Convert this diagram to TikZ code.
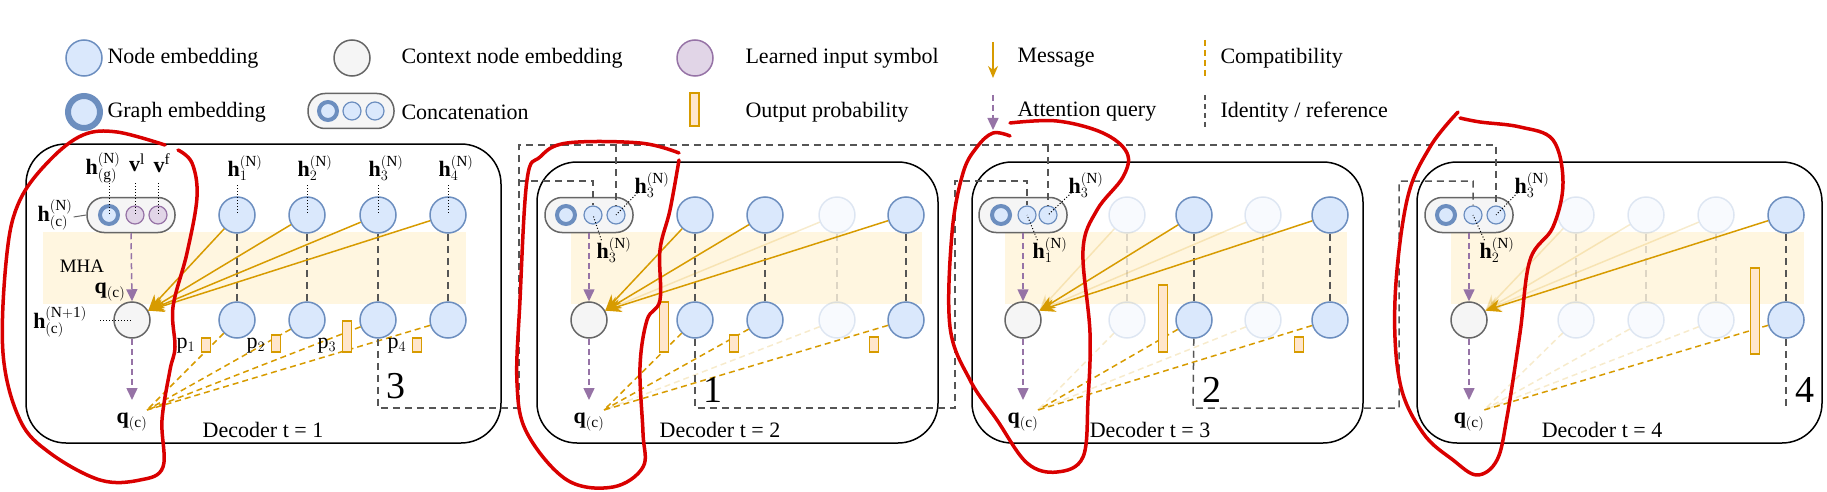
\documentclass[tikz,border=0pt]{standalone}
\usepackage{fontspec}
\setmainfont{Liberation Serif}
\usetikzlibrary{arrows.meta}
\pgfdeclarelayer{bg}\pgfsetlayers{bg,main}
\definecolor{nb}{HTML}{DAE8FC}\definecolor{nbd}{HTML}{6C8EBF}
\definecolor{cf}{HTML}{F5F5F5}\definecolor{cd}{HTML}{666666}
\definecolor{pf}{HTML}{E1D5E7}\definecolor{pd}{HTML}{9673A6}
\definecolor{of}{HTML}{FFE6CC}\definecolor{od}{HTML}{D79B00}
\definecolor{band}{HTML}{FFF6E0}\definecolor{idc}{HTML}{555555}
\begin{document}
\begin{tikzpicture}[x=1pt,y=-1pt,
 font=\fontsize{22}{26}\selectfont,
 nd/.style={circle,minimum size=36pt,inner sep=0,fill=nb,draw=nbd,line width=1.5pt},
 sn/.style={circle,minimum size=18pt,inner sep=0,fill=nb,draw=nbd,line width=1.2pt},
 pn/.style={circle,minimum size=18pt,inner sep=0,fill=pf,draw=pd,line width=1.2pt},
 gn/.style={circle,minimum size=18pt,inner sep=0,fill=nb,draw=nbd,line width=4pt},
 cn/.style={circle,minimum size=36pt,inner sep=0,fill=cf,draw=cd,line width=1.5pt},
 pill/.style={rectangle,rounded corners=17pt,minimum width=88pt,minimum height=35pt,fill=cf,draw=cd,line width=1.5pt},
 bar/.style={fill=of,draw=od,line width=1.8pt},
 box/.style={draw=black,line width=1.5pt,rounded corners=40pt},
 msg/.style={draw=od,line width=1.5pt,-{Stealth[length=16pt,width=13pt]}},
 cmp/.style={draw=od,line width=1.5pt,dash pattern=on 6pt off 4pt},
 att/.style={draw=pd,line width=1.5pt,dash pattern=on 6pt off 4pt,-{Triangle[length=12pt,width=11pt]}},
 idl/.style={draw=idc,line width=1.5pt,dash pattern=on 7pt off 5pt},
 dtl/.style={draw=black,line width=1pt,dotted},
 red/.style={draw=red!85!black,line width=3.5pt,line cap=round,line join=round},
 lab/.style={inner sep=1pt},
 big/.style={font=\fontsize{38}{40}\selectfont,inner sep=0}]
\useasboundingbox (0,0) rectangle (1827,492);
% ---------- legend ----------
\node[nd] (lg1) at (84,58) {};
\node[anchor=west] (lt1) at (104,58) {Node embedding};
\node[cn] (lg2) at (352,58) {};
\node[anchor=west] (lt2) at (398,58) {Context node embedding};
\node[nd,fill=pf,draw=pd] (lg3) at (695,58) {};
\node[anchor=west] (lt3) at (742,58) {Learned input symbol};
\node[nd,line width=6pt,minimum size=32pt] (lg4) at (84,112) {};
\node[anchor=west] (lt4) at (104,112) {Graph embedding};
\node[pill,minimum width=86pt] (lg5) at (351,111) {};
\node[gn] (lg5a) at (328,111) {};
\node[sn] (lg5b) at (352,111) {};
\node[sn] (lg5c) at (375,111) {};
\node[anchor=west] (lt5) at (398,112) {Concatenation};
\draw[bar] (690,93) rectangle (699,126);
\node[anchor=west] (lt6) at (742,112) {Output probability};
\coordinate (m1) at (993,42); \coordinate (m2) at (993,78);
\draw[msg,-{Stealth[length=12pt,width=10pt]}] (m1) -- (m2);
\node[anchor=west] (lt7) at (1014,58) {Message};
\coordinate (a1) at (993,95); \coordinate (a2) at (993,130);
\draw[att] (a1) -- (a2);
\node[anchor=west] (lt8) at (1014,112) {Attention query};
\coordinate (c1) at (1205,40); \coordinate (c2) at (1205,76);
\draw[cmp] (c1) -- (c2);
\node[anchor=west] (lt9) at (1217,58) {Compatibility};
\coordinate (i1) at (1205,95); \coordinate (i2) at (1205,130);
\draw[idl,dash pattern=on 5pt off 4pt] (i1) -- (i2);
\node[anchor=west] (lt10) at (1217,112) {Identity / reference};
% ---------- boxes and bands ----------
\draw[box] (26,144) rectangle (501,443);
\draw[box] (537,162) rectangle (938,443);
\draw[box] (972,162) rectangle (1363,443);
\draw[box] (1417,162) rectangle (1822,443);
\begin{pgfonlayer}{bg}
\fill[band] (43,232) rectangle (466,304);
\fill[band] (571,232) rectangle (922,304);
\fill[band] (1005,232) rectangle (1347,304);
\fill[band] (1451,232) rectangle (1804,304);
\end{pgfonlayer}
% ---------- decoder 1 ----------
\node[pill] (d1p) at (131,215) {};
\node[gn] (d1p1) at (109,215) {};
\node[pn] (d1p2) at (135,215) {};
\node[pn] (d1p3) at (158,215) {};
\node[cn] (d1c) at (132,320) {};
\node[lab] (d1lg) at (103,168) {$\mathbf{h}^{(\mathrm{N})}_{(\mathrm{g})}$};
\node[lab] (d1lv1) at (137,163) {$\mathbf{v}^{\mathrm{l}}$};
\node[lab] (d1lv2) at (162,163) {$\mathbf{v}^{\mathrm{f}}$};
\draw[dtl] (109,183) -- (d1p1.center);
\draw[dtl] (135,183) -- (d1p2.center);
\draw[dtl] (158,183) -- (d1p3.center);
\node[lab] (d1lc) at (55,215) {$\mathbf{h}^{(\mathrm{N})}_{(\mathrm{c})}$};
\draw[line width=1pt,cd] (d1lc.east) ++(0,2) -- (d1p.west);
\node[lab] (d1lc2) at (60,322) {$\mathbf{h}^{(\mathrm{N+1})}_{(\mathrm{c})}$};
\draw[dtl] (100,320) -- (d1c.center);
\node[lab] (d1q) at (110,292) {$\mathbf{q}_{(\mathrm{c})}$};
\node[lab] (d1mha) at (82,266) {\fontsize{19}{22}\selectfont MHA};
\draw[att] (d1p.south) -- (d1c.north);
\coordinate (d1qp) at (147,410);
\draw[att] (d1c.south) -- (132,400);
\node[lab] (d1ql) at (132,422) {$\mathbf{q}_{(\mathrm{c})}$};
\foreach \i/\x in {1/237,2/307,3/378,4/448}{
  \node[nd] (d1t\i) at (\x,215) {};
  \node[nd] (d1b\i) at (\x,320) {};
  \node[lab] (d1h\i) at (\x+8,168) {$\mathbf{h}^{(\mathrm{N})}_{\i}$};
  \draw[dtl] (\x,185) -- (d1t\i.center);
  \draw[idl] (d1t\i) -- (d1b\i);
  \draw[msg] (d1t\i) -- (d1c.30);
  \draw[cmp] (d1b\i) -- (d1qp);
}
\foreach \i/\x/\h in {1/206/14,2/276/17,3/347/31,4/417/14}{
  \draw[bar] (\x-4.5,352-\h) rectangle (\x+4.5,352);
  \node[lab] (d1pl\i) at (\x-20,346) {$\mathrm{p}_{\i}$};
}
\node (d1t) at (263,430) {Decoder t = 1};
% ---------- decoder 2 ----------
\node[pill] (d2p) at (589,215) {};
\node[gn] (d2p1) at (566,215) {};
\node[sn] (d2p2) at (593,215) {};
\node[sn] (d2p3) at (616,215) {};
\node[cn] (d2c) at (589,320) {};
\draw[att] (d2p.south) -- (d2c.north);
\coordinate (d2qp) at (604,410);
\draw[att] (d2c.south) -- (589,400);
\node[lab] (d2ql) at (589,422) {$\mathbf{q}_{(\mathrm{c})}$};
\node[lab] (d2la) at (652,185) {$\mathbf{h}^{(\mathrm{N})}_{3}$};
\node[lab] (d2lb) at (614,250) {$\mathbf{h}^{(\mathrm{N})}_{3}$};
\draw[dtl] (d2la.south west) ++(4,-6) -- (d2p3.center);
\draw[dtl] (d2lb.north west) ++(6,4) -- (d2p2.center);
\foreach \i/\x/\op in {1/695/1,2/765/1,3/837/0.2,4/906/1}{
  \node[nd,opacity=\op] (d2t\i) at (\x,215) {};
  \node[nd,opacity=\op] (d2b\i) at (\x,320) {};
  \draw[idl,opacity=\op] (d2t\i) -- (d2b\i);
  \draw[msg,opacity=\op] (d2t\i) -- (d2c.30);
  \draw[cmp,opacity=\op] (d2b\i) -- (d2qp);
}
\foreach \x/\h in {664/50,734/17,874/15}{
  \draw[bar] (\x-4.5,352-\h) rectangle (\x+4.5,352);
}
\node (d2t) at (720,430) {Decoder t = 2};
% ---------- decoder 3 ----------
\node[pill] (d3p) at (1023,215) {};
\node[gn] (d3p1) at (1001,215) {};
\node[sn] (d3p2) at (1027,215) {};
\node[sn] (d3p3) at (1048,215) {};
\node[cn] (d3c) at (1023,320) {};
\draw[att] (d3p.south) -- (d3c.north);
\coordinate (d3qp) at (1038,410);
\draw[att] (d3c.south) -- (1023,400);
\node[lab] (d3ql) at (1023,422) {$\mathbf{q}_{(\mathrm{c})}$};
\node[lab] (d3la) at (1086,185) {$\mathbf{h}^{(\mathrm{N})}_{3}$};
\node[lab] (d3lb) at (1050,250) {$\mathbf{h}^{(\mathrm{N})}_{1}$};
\draw[dtl] (d3la.south west) ++(4,-6) -- (d3p3.center);
\draw[dtl] (d3lb.north west) ++(6,4) -- (d3p2.center);
\foreach \i/\x/\op in {1/1127/0.2,2/1194/1,3/1263/0.2,4/1330/1}{
  \node[nd,opacity=\op] (d3t\i) at (\x,215) {};
  \node[nd,opacity=\op] (d3b\i) at (\x,320) {};
  \draw[idl,opacity=\op] (d3t\i) -- (d3b\i);
  \draw[msg,opacity=\op] (d3t\i) -- (d3c.30);
  \draw[cmp,opacity=\op] (d3b\i) -- (d3qp);
}
\foreach \x/\h in {1163/67,1299/15}{
  \draw[bar] (\x-4.5,352-\h) rectangle (\x+4.5,352);
}
\node (d3t) at (1150,430) {Decoder t = 3};
% ---------- decoder 4 ----------
\node[pill] (d4p) at (1469,215) {};
\node[gn] (d4p1) at (1446,215) {};
\node[sn] (d4p2) at (1473,215) {};
\node[sn] (d4p3) at (1496,215) {};
\node[cn] (d4c) at (1469,320) {};
\draw[att] (d4p.south) -- (d4c.north);
\coordinate (d4qp) at (1484,410);
\draw[att] (d4c.south) -- (1469,400);
\node[lab] (d4ql) at (1469,422) {$\mathbf{q}_{(\mathrm{c})}$};
\node[lab] (d4la) at (1532,185) {$\mathbf{h}^{(\mathrm{N})}_{3}$};
\node[lab] (d4lb) at (1497,250) {$\mathbf{h}^{(\mathrm{N})}_{2}$};
\draw[dtl] (d4la.south west) ++(4,-6) -- (d4p3.center);
\draw[dtl] (d4lb.north west) ++(6,4) -- (d4p2.center);
\foreach \i/\x/\op in {1/1576/0.2,2/1646/0.2,3/1716/0.2,4/1786/1}{
  \node[nd,opacity=\op] (d4t\i) at (\x,215) {};
  \node[nd,opacity=\op] (d4b\i) at (\x,320) {};
  \draw[idl,opacity=\op] (d4t\i) -- (d4b\i);
  \draw[msg,opacity=\op] (d4t\i) -- (d4c.30);
  \draw[cmp,opacity=\op] (d4b\i) -- (d4qp);
}
\draw[bar] (1750.5,268) rectangle (1759.5,354);
\node (d4t) at (1602,430) {Decoder t = 4};
% ---------- identity / reference paths ----------
\draw[idl] (d1b3) -- (378,408) -- (519,408) -- (519,145) -- (1496,145) -- (d4p3.north);
\draw[idl] (616,145) -- (d2p3.north);
\draw[idl] (1048,145) -- (d3p3.north);
\draw[idl] (519,181) -- (593,181) -- (d2p2.north);
\draw[idl] (d2b1) -- (695,408) -- (955,408) -- (955,181) -- (1027,181) -- (d3p2.north);
\draw[idl] (d3b2) -- (1193,408) -- (1399,408) -- (1399,181) -- (1473,181) -- (d4p2.north);
\draw[idl] (d4b4) -- (1786,408);
\node[big] (n3) at (396,386) {3};
\node[big] (n1) at (713,390) {1};
\node[big] (n2) at (1212,390) {2};
\node[big] (n4) at (1805,390) {4};
% ---------- red annotations ----------
\draw[red] plot[smooth,tension=0.6] coordinates {(165,145) (117,132) (83,135) (50,160) (20,200) (7,253) (3,353) (20,420) (50,453) (100,480) (140,480) (163,467) (162,420) (170,370) (175,347) (173,307) (187,253) (197,197) (192,163) (178,150)};
\draw[red] plot[smooth,tension=0.6] coordinates {(679,153) (640,143) (567,143) (540,157) (527,180) (520,300) (517,383) (527,433) (567,480) (613,487) (643,467) (643,433) (640,367) (647,320) (660,300) (660,250) (670,210) (679,160)};
\draw[red] plot[smooth,tension=0.6] coordinates {(1010,136) (993,133) (977,147) (963,173) (952,233) (950,327) (970,380) (997,420) (1027,463) (1057,472) (1083,457) (1088,400) (1090,333) (1083,250) (1097,210) (1123,177) (1127,153) (1103,133) (1057,121) (1010,123)};
\draw[red] plot[smooth,tension=0.6] coordinates {(1458,112) (1430,147) (1407,200) (1395,300) (1400,383) (1423,433) (1453,460) (1477,475) (1497,460) (1507,417) (1520,333) (1530,260) (1553,227) (1563,183) (1553,140) (1520,127) (1480,122) (1460,118)};
\end{tikzpicture}
\end{document}
